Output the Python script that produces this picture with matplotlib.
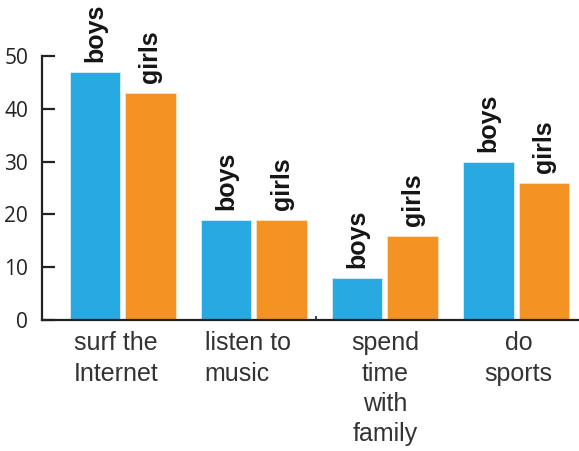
import numpy as np
import matplotlib.pyplot as plt

# Daten
kategorien = ["surf the\nInternet", "listen to\nmusic", "spend\ntime\nwith\nfamily", "do\nsports"]
boys = [47, 19, 8, 30]
girls = [43, 19, 16, 26]

blau = "#29a9e1"
orange = "#f39324"

fig = plt.figure(figsize=(5.79, 4.51), dpi=100)
ax = fig.add_axes([42 / 579, 131 / 451, 1 - 42 / 579, 264 / 451])

x = np.arange(len(kategorien))
breite = 0.385
versatz = 0.2115

ax.bar(x - versatz, boys, breite, color=blau, edgecolor="#d8eef8", linewidth=0.6)
ax.bar(x + versatz, girls, breite, color=orange, edgecolor="#fbe3c6", linewidth=0.6)

# vertikale Beschriftungen ueber den Balken
for i in range(len(kategorien)):
    ax.text(x[i] - versatz, boys[i] + 1.8, "boys", rotation=90, ha="center", va="bottom",
            fontsize=18, fontweight="bold", family="Liberation Sans", color="#151515", clip_on=False)
    ax.text(x[i] + versatz, girls[i] + 1.8, "girls", rotation=90, ha="center", va="bottom",
            fontsize=18, fontweight="bold", family="Liberation Sans", color="#151515", clip_on=False)

# Kategorien unter der Achse
label_versatz = [-0.05, -0.046, 0.0, 0.02]
ausrichtung = ["left", "left", "center", "center"]
for i, k in enumerate(kategorien):
    ax.text(x[i] + label_versatz[i], -2.1, k, ha="center", va="top", fontsize=18,
            family="Liberation Sans", color="#333333", linespacing=1.34,
            multialignment=ausrichtung[i])

ax.set_xlim(-0.615, 3.48)
ax.set_ylim(0, 50)
ax.set_yticks([0, 10, 20, 30, 40, 50])
ax.set_xticks([1.477])
ax.set_xticklabels([""])
ax.tick_params(axis="x", direction="in", length=3, width=1.2, color="#222222")
ax.tick_params(axis="y", direction="in", length=9, width=1.6, color="#222222",
               labelsize=15, labelcolor="#222222", pad=10)
for lbl in ax.get_yticklabels():
    lbl.set_family("Open Sans")

for s in ["top", "right"]:
    ax.spines[s].set_visible(False)
for s in ["left", "bottom"]:
    ax.spines[s].set_linewidth(1.6)
    ax.spines[s].set_color("#222222")

fig.savefig("out.png", dpi=100)
